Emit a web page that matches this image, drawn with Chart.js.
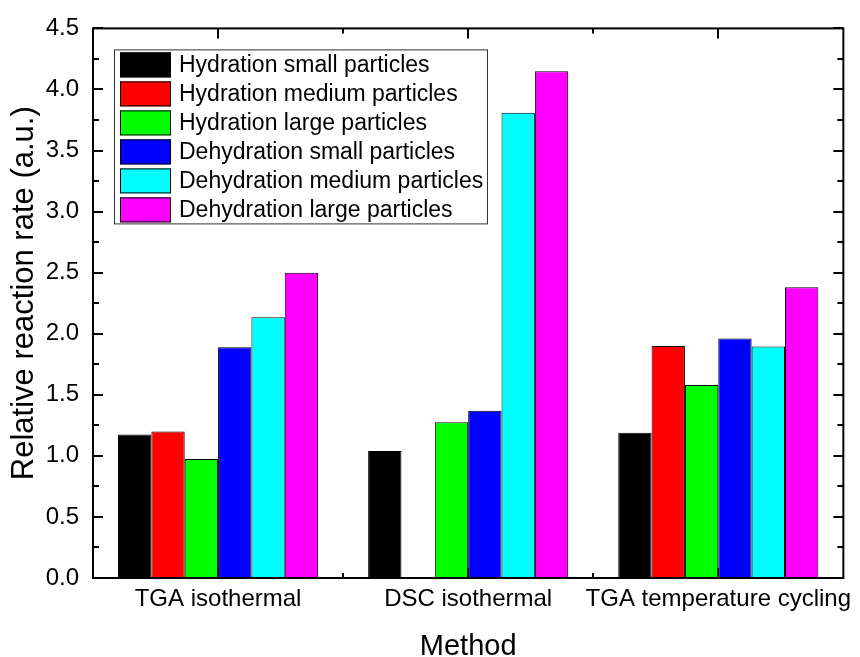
<!DOCTYPE html>
<html>
<head>
<meta charset="utf-8">
<script src="https://cdn.jsdelivr.net/npm/chart.js@4"></script>
<style>
  html, body { margin: 0; padding: 0; background: #fff; }
  #wrap { width: 860px; height: 657px; }
</style>
</head>
<body>
<div id="wrap"><canvas id="c" width="860" height="657"></canvas></div>
<script>
// Measurement methods on the x axis
const methods = ['TGA isothermal', 'DSC isothermal', 'TGA temperature cycling'];

// Relative reaction rate per particle group (a.u.); null = not measured
const hydrationSmall    = [1.175, 1.04, 1.19];
const hydrationMedium   = [1.20, null, 1.90];
const hydrationLarge    = [0.975, 1.275, 1.58];
const dehydrationSmall  = [1.89, 1.37, 1.96];
const dehydrationMedium = [2.135, 3.81, 1.895];
const dehydrationLarge  = [2.50, 4.15, 2.38];

const seriesNames = [
  'Hydration small particles',
  'Hydration medium particles',
  'Hydration large particles',
  'Dehydration small particles',
  'Dehydration medium particles',
  'Dehydration large particles'
];
const seriesColors = ['#000000', '#ff0000', '#00ff00', '#0000ff', '#00ffff', '#ff00ff'];
const seriesValues = [hydrationSmall, hydrationMedium, hydrationLarge,
                      dehydrationSmall, dehydrationMedium, dehydrationLarge];

const yTicks = [0, 0.5, 1.0, 1.5, 2.0, 2.5, 3.0, 3.5, 4.0, 4.5];

const xTitle = 'Method';
const yTitle = 'Relative reaction rate (a.u.)';

const FONT = 'Liberation Sans, Arial, Helvetica, sans-serif';

// Ticks that sit inside the plot frame (drawn under the bars), then the frame
const innerTicks = {
  id: 'innerTicks',
  beforeDatasetsDraw(chart) {
    const { ctx, chartArea: a, scales: { x, y } } = chart;
    ctx.save();
    ctx.strokeStyle = '#000';
    ctx.lineWidth = 2;
    ctx.beginPath();
    // y major + minor ticks on left and right
    for (let v = 0; v <= 4.5 + 1e-9; v += 0.25) {
      const py = Math.round(y.getPixelForValue(v));
      const major = Math.abs(v * 2 - Math.round(v * 2)) < 1e-6;
      const len = major ? 10 : 6;
      ctx.moveTo(a.left, py); ctx.lineTo(a.left + len, py);
      ctx.moveTo(a.right, py); ctx.lineTo(a.right - len, py);
    }
    // x major ticks at the categories, minor between them
    methods.forEach((m, i) => {
      const px = Math.round(x.getPixelForValue(i));
      ctx.moveTo(px, a.top); ctx.lineTo(px, a.top + 10);
      ctx.moveTo(px, a.bottom); ctx.lineTo(px, a.bottom - 10);
      if (i > 0) {
        const pb = Math.round((x.getPixelForValue(i - 1) + px) / 2);
        ctx.moveTo(pb, a.top); ctx.lineTo(pb, a.top + 5);
        ctx.moveTo(pb, a.bottom); ctx.lineTo(pb, a.bottom - 5);
      }
    });
    ctx.stroke();
    ctx.restore();
  },
  afterDatasetsDraw(chart) {
    const { ctx, chartArea: a } = chart;
    ctx.save();
    ctx.strokeStyle = '#000';
    ctx.lineWidth = 2;
    ctx.strokeRect(a.left, a.top, a.right - a.left, a.bottom - a.top);
    ctx.restore();
  }
};

// Legend box drawn inside the plot, upper left
const insideLegend = {
  id: 'insideLegend',
  afterDatasetsDraw(chart) {
    const { ctx, chartArea: a } = chart;
    const boxL = a.left + 21, boxT = a.top + 21, boxW = 373, boxH = 174;
    ctx.save();
    ctx.fillStyle = '#fff';
    ctx.fillRect(boxL, boxT, boxW, boxH);
    ctx.strokeStyle = '#333';
    ctx.lineWidth = 1;
    ctx.strokeRect(boxL + 0.5, boxT + 0.5, boxW, boxH);
    ctx.font = '23px ' + FONT;
    ctx.textBaseline = 'middle';
    chart.data.datasets.forEach((ds, i) => {
      const top = boxT + 3 + i * 29;
      ctx.fillStyle = ds.backgroundColor;
      ctx.fillRect(boxL + 6, top, 51, 25);
      ctx.strokeStyle = '#000';
      ctx.strokeRect(boxL + 6.5, top + 0.5, 50, 24);
      ctx.fillStyle = '#000';
      ctx.fillText(ds.label, boxL + 65, top + 13);
    });
    ctx.restore();
  }
};

// Axis titles placed on their baselines
const axisTitles = {
  id: 'axisTitles',
  afterDraw(chart) {
    const { ctx, chartArea: a } = chart;
    ctx.save();
    ctx.fillStyle = '#000';
    ctx.font = '29px ' + FONT;
    ctx.textAlign = 'center';
    ctx.textBaseline = 'alphabetic';
    ctx.fillText(xTitle, (a.left + a.right) / 2, 655);
    ctx.font = '31px ' + FONT;
    ctx.translate(33, (a.top + a.bottom) / 2 - 10);
    ctx.rotate(-Math.PI / 2);
    ctx.fillText(yTitle, 0, 0);
    ctx.restore();
  }
};

new Chart(document.getElementById('c'), {
  type: 'bar',
  data: {
    labels: methods,
    datasets: seriesNames.map((name, i) => ({
      label: name,
      data: seriesValues[i],
      backgroundColor: seriesColors[i],
      borderColor: '#000',
      borderWidth: 1,
      categoryPercentage: 0.8,
      barPercentage: 1.0
    }))
  },
  options: {
    responsive: false,
    animation: false,
    devicePixelRatio: 1,
    layout: { padding: { top: 24, right: 12, left: 0, bottom: 0 } },
    plugins: { legend: { display: false }, tooltip: { enabled: false } },
    scales: {
      x: {
        grid: { display: false, drawTicks: false },
        border: { display: false },
        ticks: { color: '#000', font: { family: FONT, size: 24 }, padding: 7, maxRotation: 0, autoSkip: false },
        afterFit(s) { s.height = 79; }
      },
      y: {
        min: 0, max: 4.5,
        afterBuildTicks(s) { s.ticks = yTicks.map(v => ({ value: v })); },
        grid: { display: false, drawTicks: false },
        border: { display: false },
        ticks: { color: '#000', font: { family: FONT, size: 24 }, padding: 14, callback: v => Number(v).toFixed(1) },
        afterFit(s) { s.width = 93; }
      }
    }
  },
  plugins: [innerTicks, insideLegend, axisTitles]
});
</script>
</body>
</html>
